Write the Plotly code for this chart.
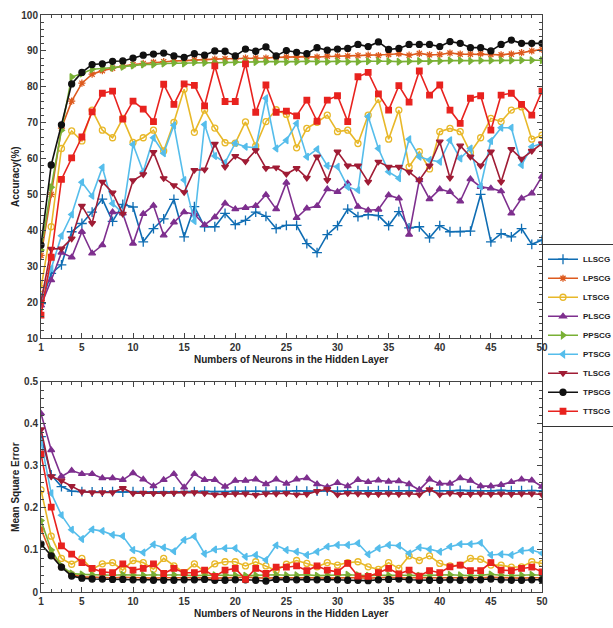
import plotly.graph_objects as go
from plotly.subplots import make_subplots

neurons = list(range(1, 51))
series_names = ["LLSCG", "LPSCG", "LTSCG", "PLSCG", "PPSCG", "PTSCG", "TLSCG", "TPSCG", "TTSCG"]

# ---- Accuracy (%) ----
LLSCG_acc = [19.6, 28, 30.4, 39.6, 41.9, 45.1, 48.7, 42.5, 47.2, 46.5, 36.8, 40.5, 43.2, 48.6, 38.2, 46.6, 41, 41, 44.7, 41.6,
             42.8, 45.1, 43.9, 40.5, 41.4, 41.4, 36.3, 33.8, 38.8, 41.3, 45.9, 43.8, 44.4, 44.1, 41.3, 45.2, 40.7, 41, 37.9, 41.3,
             39.6, 39.6, 39.8, 50, 36.8, 39.1, 38.2, 40.5, 36.1, 37.3]
LPSCG_acc = [33, 50, 68.5, 76, 81, 83.5, 84.5, 85.2, 85.8, 86.2, 86.5, 86.8, 87, 87.2, 87.3, 87.5, 87.6, 87.7, 87.8, 87.8,
             88, 88, 88, 88.2, 88.3, 88.2, 88.4, 88.3, 88.5, 88.5, 88.6, 88.7, 88.8, 88.7, 89, 89.2, 88.8, 89.3, 88.9, 89,
             89.4, 89.1, 89.1, 89.2, 89, 88.9, 89.1, 89.5, 90, 90.4]
LTSCG_acc = [23.8, 41, 62.8, 67.7, 64.9, 73.5, 67.9, 65.8, 71.2, 64.5, 65.8, 67.9, 62.1, 70.1, 79.3, 67.3, 73.5, 68.5, 64.4, 64.3,
             70.2, 63.5, 70.3, 73.6, 72.3, 63, 68.4, 70.1, 72.1, 67.5, 67.9, 64.2, 72.1, 76.5, 65.4, 73.5, 57.7, 61.9, 57.1, 67.5,
             68.4, 67.5, 61.7, 65.8, 71.2, 70.3, 73.5, 74.4, 65.4, 66.5]
PLSCG_acc = [19.1, 26.1, 33.8, 32.5, 39.6, 33.6, 35.9, 45.1, 44.7, 36.3, 44.6, 46.9, 38.6, 42.2, 45.1, 44.5, 41.5, 43.7, 47.5, 45.9,
             46.3, 46.8, 49.9, 45.9, 53.3, 43.5, 46.1, 46.8, 51.5, 50.7, 53.1, 46.6, 45.6, 45.8, 49.8, 48.9, 38.8, 54, 48.7, 51.5,
             50.7, 48.1, 54.3, 52.1, 51.7, 50.9, 44.7, 48.9, 50.3, 55]
PPSCG_acc = [34.5, 52, 67.9, 82.7, 83.7, 84.9, 85.1, 85.3, 85.6, 85.9, 86.2, 86.2, 86.5, 86.6, 86.5, 86.8, 86.7, 86.7, 86.8, 86.9,
             87, 86.9, 87, 87, 86.9, 87, 87.1, 87, 87, 87.1, 87, 87, 87.1, 87.2, 87.1, 87, 87.1, 87.2, 87.1, 87.2,
             87.3, 87.3, 87.2, 87.3, 87.3, 87.4, 87.3, 87.4, 87.4, 87.4]
PTSCG_acc = [21.5, 29.4, 38.5, 44.4, 53.4, 49.6, 57.5, 47.5, 44.7, 63.9, 56.3, 65.8, 61.5, 69.3, 54, 42.6, 69.5, 60.7, 58.9, 64.3,
             63.3, 63, 76.8, 62.8, 65.1, 69.8, 60.5, 62.6, 58, 57.7, 52.1, 51.2, 71.7, 62.8, 56.3, 54.5, 65.4, 60.5, 59.6, 59.1,
             65.1, 60, 62.8, 52.2, 64.9, 68.6, 68.6, 58.2, 63.3, 64.2]
TLSCG_acc = [20.1, 34.8, 34.9, 37.7, 46.8, 42, 53.5, 50.5, 44.6, 53.9, 55.6, 61.8, 54.5, 52.5, 50.6, 56.8, 56.9, 64.1, 57.7, 60.7,
             59.2, 62.3, 57.3, 57.5, 55.7, 57.3, 54.6, 60.5, 54, 61.9, 58, 58, 53.5, 59.1, 57.7, 57.7, 56.3, 54, 58, 64.7,
             54.6, 63.6, 60.5, 58, 61.9, 53.5, 62.6, 59.9, 62.1, 64.2]
TPSCG_acc = [35.9, 58.2, 69.4, 80.8, 84, 86.2, 86.4, 87.1, 87.2, 88, 88.8, 89.1, 89.4, 88.6, 88.2, 89.2, 88.8, 90, 89.9, 88.6,
             90.5, 89.9, 91.1, 88.6, 90.1, 89.6, 89.2, 90.9, 90.2, 90.5, 90.7, 91.8, 91.2, 92.5, 90.4, 90.7, 91.8, 91.8, 91.8, 91.2,
             92.6, 92.1, 90.9, 90.9, 90, 91.8, 93, 92.1, 92.1, 92.1]
TTSCG_acc = [16.4, 32.5, 54.2, 60.2, 66, 73, 78.2, 78.8, 71, 76, 73.8, 70.3, 80.7, 75.1, 80.8, 80.4, 74.7, 85.8, 75.9, 75.9,
             86.4, 72.9, 80.5, 72.9, 73.2, 71.9, 76.3, 70.4, 76.3, 77.5, 70.3, 82.8, 84, 78, 73.5, 80.3, 75.7, 84.4, 77.7, 80.5,
             73.5, 69.8, 76.8, 77.5, 67.9, 77.7, 78.2, 75.1, 72.1, 78.8]

# ---- Mean square error ----
LLSCG_mse = [0.370, 0.279, 0.251, 0.240, 0.239, 0.238, 0.238, 0.239, 0.238, 0.239, 0.238, 0.238, 0.239, 0.238, 0.239, 0.239, 0.240,
             0.239, 0.239, 0.240, 0.240, 0.240, 0.239, 0.240, 0.240, 0.241, 0.240, 0.240, 0.241, 0.240, 0.241, 0.241, 0.240, 0.241,
             0.241, 0.241, 0.241, 0.240, 0.241, 0.241, 0.241, 0.242, 0.241, 0.241, 0.241, 0.242, 0.241, 0.241, 0.242, 0.241]
LPSCG_mse = [0.150, 0.090, 0.060, 0.042, 0.036, 0.035, 0.034, 0.034, 0.035, 0.034, 0.034, 0.033, 0.034, 0.034, 0.035, 0.034, 0.034,
             0.033, 0.034, 0.034, 0.035, 0.034, 0.033, 0.034, 0.034, 0.034, 0.035, 0.034, 0.033, 0.034, 0.034, 0.034, 0.033, 0.034,
             0.035, 0.034, 0.034, 0.033, 0.034, 0.034, 0.034, 0.034, 0.033, 0.034, 0.035, 0.034, 0.034, 0.033, 0.034, 0.034]
LTSCG_mse = [0.243, 0.133, 0.080, 0.066, 0.080, 0.054, 0.067, 0.070, 0.052, 0.075, 0.070, 0.054, 0.080, 0.062, 0.046, 0.067, 0.048,
             0.067, 0.072, 0.072, 0.062, 0.072, 0.062, 0.051, 0.066, 0.075, 0.068, 0.060, 0.070, 0.064, 0.070, 0.072, 0.060, 0.054,
             0.070, 0.056, 0.086, 0.075, 0.086, 0.068, 0.062, 0.064, 0.080, 0.078, 0.064, 0.064, 0.059, 0.060, 0.072, 0.068]
PLSCG_mse = [0.425, 0.338, 0.275, 0.289, 0.281, 0.281, 0.271, 0.271, 0.267, 0.283, 0.268, 0.252, 0.267, 0.281, 0.249, 0.281, 0.267,
             0.267, 0.251, 0.265, 0.265, 0.268, 0.257, 0.268, 0.258, 0.268, 0.271, 0.257, 0.250, 0.260, 0.252, 0.267, 0.262, 0.266,
             0.263, 0.264, 0.257, 0.243, 0.268, 0.258, 0.258, 0.271, 0.265, 0.252, 0.252, 0.255, 0.262, 0.268, 0.266, 0.251]
PPSCG_mse = [0.170, 0.100, 0.062, 0.044, 0.042, 0.041, 0.041, 0.040, 0.041, 0.040, 0.040, 0.041, 0.040, 0.041, 0.040, 0.039, 0.040,
             0.040, 0.041, 0.040, 0.039, 0.040, 0.040, 0.041, 0.040, 0.040, 0.041, 0.039, 0.040, 0.040, 0.041, 0.040, 0.039, 0.040,
             0.040, 0.041, 0.040, 0.039, 0.040, 0.040, 0.041, 0.040, 0.039, 0.040, 0.042, 0.040, 0.039, 0.040, 0.041, 0.040]
PTSCG_mse = [0.358, 0.235, 0.183, 0.148, 0.126, 0.149, 0.145, 0.136, 0.133, 0.100, 0.094, 0.113, 0.106, 0.097, 0.124, 0.132, 0.091,
             0.101, 0.104, 0.104, 0.084, 0.088, 0.076, 0.111, 0.100, 0.096, 0.088, 0.096, 0.108, 0.112, 0.112, 0.116, 0.090, 0.104,
             0.112, 0.110, 0.092, 0.106, 0.102, 0.096, 0.108, 0.114, 0.114, 0.117, 0.088, 0.090, 0.088, 0.098, 0.100, 0.092]
TLSCG_mse = [0.387, 0.275, 0.265, 0.252, 0.239, 0.237, 0.237, 0.237, 0.247, 0.235, 0.236, 0.235, 0.235, 0.236, 0.236, 0.237, 0.235,
             0.232, 0.233, 0.234, 0.234, 0.231, 0.234, 0.234, 0.235, 0.232, 0.233, 0.240, 0.245, 0.232, 0.235, 0.234, 0.233, 0.233,
             0.234, 0.233, 0.234, 0.232, 0.244, 0.232, 0.235, 0.233, 0.233, 0.234, 0.233, 0.234, 0.233, 0.234, 0.234, 0.232]
TPSCG_mse = [0.114, 0.086, 0.059, 0.038, 0.033, 0.031, 0.031, 0.030, 0.030, 0.029, 0.029, 0.028, 0.028, 0.028, 0.029, 0.029, 0.030,
             0.028, 0.028, 0.029, 0.029, 0.028, 0.026, 0.030, 0.030, 0.029, 0.030, 0.029, 0.030, 0.029, 0.028, 0.028, 0.027, 0.029,
             0.030, 0.031, 0.029, 0.028, 0.028, 0.028, 0.029, 0.028, 0.029, 0.029, 0.031, 0.029, 0.028, 0.028, 0.029, 0.029]
TTSCG_mse = [0.329, 0.202, 0.110, 0.090, 0.070, 0.056, 0.048, 0.046, 0.067, 0.052, 0.056, 0.067, 0.044, 0.056, 0.046, 0.046, 0.052,
             0.037, 0.052, 0.056, 0.030, 0.056, 0.044, 0.059, 0.059, 0.062, 0.051, 0.062, 0.052, 0.048, 0.068, 0.038, 0.037, 0.046,
             0.056, 0.043, 0.052, 0.038, 0.051, 0.046, 0.060, 0.064, 0.051, 0.051, 0.070, 0.052, 0.051, 0.056, 0.059, 0.048]

x_ticks = [1, 5, 10, 15, 20, 25, 30, 35, 40, 45, 50]
acc_ticks = [10, 20, 30, 40, 50, 60, 70, 80, 90, 100]
mse_ticks = [0, 0.1, 0.2, 0.3, 0.4, 0.5]
mse_ticktext = ["0", "0.1", "0.2", "0.3", "0.4", "0.5"]

x_title = "Numbers of Neurons in the Hidden Layer"
acc_title = "Accuracy(%)"
mse_title = "Mean Square Error"

acc_data = [LLSCG_acc, LPSCG_acc, LTSCG_acc, PLSCG_acc, PPSCG_acc, PTSCG_acc, TLSCG_acc, TPSCG_acc, TTSCG_acc]
mse_data = [LLSCG_mse, LPSCG_mse, LTSCG_mse, PLSCG_mse, PPSCG_mse, PTSCG_mse, TLSCG_mse, TPSCG_mse, TTSCG_mse]

colors = ["#0F6DB3", "#DD5A1E", "#E8B829", "#7E2F8E", "#79B035", "#55BDEB", "#A01C35", "#111111", "#E8221E"]
symbols = ["cross-thin-open", "asterisk-open", "circle-open", "triangle-up", "triangle-right",
           "triangle-left", "triangle-down", "circle", "square"]
sizes = [7, 6, 6, 6, 6, 6, 6, 6, 5.5]

FONT = "Liberation Sans, Arial, sans-serif"

fig = make_subplots(rows=2, cols=1, shared_xaxes=False, vertical_spacing=0.0)

for i, name in enumerate(series_names):
    mk = dict(symbol=symbols[i], size=sizes[i], color=colors[i], line=dict(color=colors[i], width=1.3))
    fig.add_trace(go.Scatter(x=neurons, y=acc_data[i], mode="lines+markers", name=name, legendgroup=name,
                             line=dict(color=colors[i], width=1.6), marker=mk, showlegend=True), row=1, col=1)
    fig.add_trace(go.Scatter(x=neurons, y=mse_data[i], mode="lines+markers", name=name, legendgroup=name,
                             line=dict(color=colors[i], width=1.6), marker=mk, showlegend=False), row=2, col=1)

axis_common = dict(showline=True, linecolor="#444", linewidth=1, mirror="ticks", ticks="inside",
                   ticklen=5, tickcolor="#444", showgrid=False, zeroline=False,
                   tickfont=dict(family=FONT, size=10, color="#333", weight="bold"))

fig.update_xaxes(range=[1, 50], tickvals=x_ticks, minor=dict(dtick=1, ticklen=3, ticks="inside", tickcolor="#444"),
                 **axis_common)
fig.update_yaxes(**axis_common)
fig.update_yaxes(range=[10, 100], tickvals=acc_ticks, minor=dict(dtick=2, ticklen=3, ticks="inside", tickcolor="#444"),
                 row=1, col=1)
fig.update_yaxes(range=[0, 0.5], tickvals=mse_ticks, ticktext=mse_ticktext,
                 minor=dict(dtick=0.02, ticklen=3, ticks="inside", tickcolor="#444"),
                 row=2, col=1)

title_font = dict(family=FONT, size=10, color="#222", weight="bold")
annotations = [
    dict(text=x_title, xref="paper", yref="paper", x=0.5, y=0.403, xanchor="center", yanchor="middle",
         showarrow=False, font=title_font),
    dict(text=x_title, xref="paper", yref="paper", x=0.5, y=-0.0375, xanchor="center", yanchor="middle",
         showarrow=False, font=title_font),
    dict(text=acc_title, xref="paper", yref="paper", x=-0.05, y=0.721, xanchor="center", yanchor="middle",
         textangle=-90, showarrow=False, font=title_font),
    dict(text=mse_title, xref="paper", yref="paper", x=-0.05, y=0.182, xanchor="center", yanchor="middle",
         textangle=-90, showarrow=False, font=title_font),
]

fig.update_layout(
    width=613, height=628, autosize=False,
    margin=dict(l=41, r=71, t=15, b=36, autoexpand=False),
    paper_bgcolor="white", plot_bgcolor="white",
    font=dict(family=FONT, size=10, color="#222"),
    yaxis=dict(domain=[0.4402, 1.0]),
    yaxis2=dict(domain=[0.0, 0.364]),
    annotations=annotations,
    legend=dict(x=1.0, xanchor="left", y=0.445, yanchor="middle",
                bgcolor="rgba(255,255,255,0)", bordercolor="#333", borderwidth=1,
                font=dict(family=FONT, size=8, color="#222", weight="bold"),
                itemwidth=30, tracegroupgap=0),
)

fig.write_html("out.html", config={"displayModeBar": False},
               post_script="document.body.style.margin='0';document.body.style.padding='0';")
